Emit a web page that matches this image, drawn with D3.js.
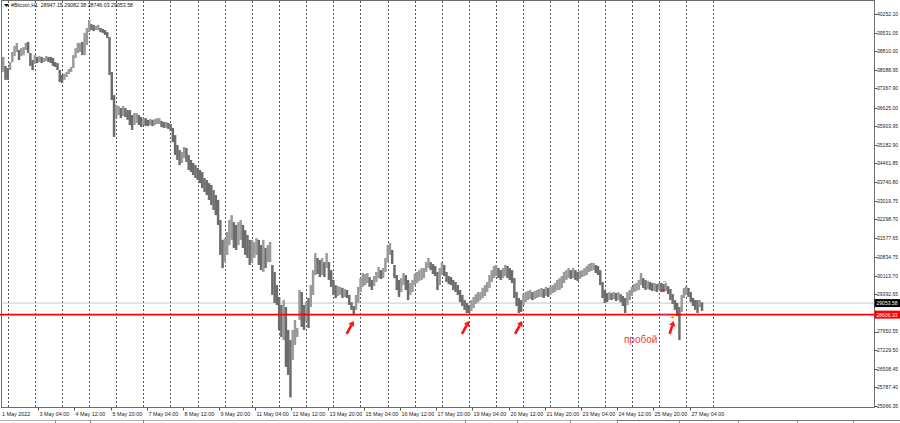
<!DOCTYPE html>
<html><head><meta charset="utf-8">
<script src="https://cdn.jsdelivr.net/npm/d3@7"></script>
<style>
body{margin:0;background:#fff;}
svg{display:block;}
text{font-family:"Liberation Sans",Arial,sans-serif;}
</style>
</head><body>
<svg id="chart" width="900" height="423"></svg>
<script>
// ---------- data ----------
const symbolName = "#Bitcoin,H1";
const lastOHLC = [28947.15, 29082.38, 28746.03, 29053.58];
const barStart = "2022-05-01T20:00:00Z";   // first bar open time
const barHours = 2;                        // each stored bar covers 2 hours
const barHigh = [
38590,38240,38160,38390,38780,39010,39130,38860,38930,38970,39130,39170,38740,38470,38660,38590,38620,38590,38550,38620,
38590,38590,38550,38390,38350,38080,37890,37930,38010,38120,38200,38660,38930,39130,39130,39170,39520,39710,40020,39860,
39830,39790,39830,39710,39670,39630,39550,39360,38010,37110,36730,36690,36610,36690,36610,36530,36530,36340,36420,36420,
36340,36260,36220,36220,36150,36180,36150,36180,36220,36220,36110,36070,36070,36030,35990,35840,35560,35180,34980,34910,
35100,35060,34790,34600,34480,34400,34290,34210,34130,33900,33820,33700,33630,33430,33240,33050,32270,31500,31570,31810,
32270,32460,32190,32080,32190,32270,32080,31880,31690,31500,31500,31420,31570,31500,31300,31500,31190,31300,31420,30530,
30260,29750,29290,28980,29170,28900,28010,27620,28010,28400,28090,29560,29480,28980,29090,29250,29750,30330,30990,30800,
30720,30800,30640,30990,30640,30330,29950,29750,29710,29680,29640,29600,29560,29370,29090,28940,29370,29680,30020,30220,
30180,30220,30060,29950,30100,30260,30450,30330,30410,30800,31300,31380,31110,30530,30140,29950,30020,30220,30140,29950,
29830,29950,30180,30260,30330,30410,30410,30640,30800,30640,30570,30490,30260,30410,30640,30530,30260,30100,30060,29950,
29870,29750,29560,29370,29170,29060,28980,29170,29290,29400,29480,29480,29640,29750,29870,30140,30330,30490,30530,30410,
30330,30410,30530,30490,30410,30330,30020,29480,29250,29170,29400,29480,29520,29560,29480,29520,29560,29600,29640,29600,
29680,29640,29710,29750,29830,29950,30020,30100,30260,30330,30410,30330,30410,30330,30260,30300,30330,30410,30490,30570,
30610,30610,30530,30490,30330,29870,29560,29440,29480,29440,29480,29440,29480,29400,29330,29250,29480,29560,29680,29790,
29830,29950,30220,30020,29950,29910,29870,29830,29830,29790,29830,29830,29790,29830,29710,29600,29400,29170,29060,28900,
29370,29640,29710,29640,29480,29250,29170,29170,29170,29082
];
const barLow = [
38010,37700,37700,38080,38390,38620,38780,38470,38620,38660,38860,38740,38240,38080,38320,38350,38390,38350,38390,38430,
38390,38350,38240,38200,38080,37620,37580,37700,37810,37930,38010,38160,38550,38740,38780,38660,38660,39050,39550,39630,
39590,39630,39630,39550,39520,39440,39320,37890,36920,35490,36220,36340,36220,36300,36260,36150,35950,35760,35950,36030,
35950,35870,35950,35910,35910,35950,35910,35950,35990,35990,35870,35840,35840,35800,35720,35290,34790,34600,34400,34480,
34670,34520,34210,34130,34010,33900,33820,33700,33510,33360,33240,33050,32850,32660,32460,32080,30920,30410,30640,30920,
31300,31500,31190,31110,31300,31500,31190,30920,30800,30530,30640,30800,30920,30530,30330,30260,30410,30640,30640,29370,
29060,28980,28010,27740,27620,26580,26270,25400,26850,27430,27740,28400,28130,28010,28320,28090,28900,29370,30140,30180,
30060,30140,30060,30410,29950,29680,29370,29250,29330,29370,29250,29290,29250,28980,28790,28590,28790,29060,29480,29680,
29750,29830,29680,29560,29710,29870,30020,29990,30020,30260,30640,30920,30570,30020,29560,29290,29480,29750,29560,29170,
29370,29480,29750,29830,29910,29950,30020,30260,30410,30330,30180,30100,29560,29750,30140,30100,29870,29790,29750,29560,
29480,29370,29090,28940,28790,28670,28670,28750,28860,29020,29090,29170,29250,29330,29480,29640,29870,30020,30100,30020,
29950,30020,30100,30020,29950,29830,29250,28940,28670,28710,28980,29090,29170,29210,29170,29210,29250,29290,29290,29250,
29330,29290,29370,29440,29480,29560,29560,29640,29830,29950,30020,29990,30020,29950,29910,29990,30060,30100,30140,30260,
30300,30330,30220,30140,29750,29250,29060,29090,29170,29170,29210,29130,29170,29090,28940,28670,28980,29170,29330,29480,
29520,29560,29750,29640,29560,29600,29560,29520,29520,29480,29560,29480,29480,29520,29400,29170,29020,28790,28550,27620,
28710,29250,29370,29290,29090,28940,28790,28670,28900,28746
];
const priceTicks = [40252.10,39531.05,38810.00,38088.95,37367.90,36625.00,35903.95,35182.90,34461.85,33740.80,
  33019.75,32298.70,31577.65,30834.75,30113.70,29392.65,27950.55,27229.50,26508.45,25787.40,25066.35];
const timeLabelDates = ["2022-05-01T20:00Z","2022-05-03T04:00Z","2022-05-04T12:00Z","2022-05-05T20:00Z","2022-05-07T04:00Z",
  "2022-05-08T12:00Z","2022-05-09T20:00Z","2022-05-11T04:00Z","2022-05-12T12:00Z","2022-05-13T20:00Z","2022-05-15T04:00Z",
  "2022-05-16T12:00Z","2022-05-17T20:00Z","2022-05-19T04:00Z","2022-05-20T12:00Z","2022-05-21T20:00Z","2022-05-23T04:00Z",
  "2022-05-24T12:00Z","2022-05-25T20:00Z","2022-05-27T04:00Z"];
const timeLabelTexts = ["1 May 2022","3 May 04:00","4 May 12:00","5 May 20:00","7 May 04:00","8 May 12:00","9 May 20:00",
  "11 May 04:00","12 May 12:00","13 May 20:00","15 May 04:00","16 May 12:00","17 May 20:00","19 May 04:00","20 May 12:00",
  "21 May 20:00","23 May 04:00","24 May 12:00","25 May 20:00","27 May 04:00"];
const gridFirstDay = "2022-05-02T01:00Z";
const gridDayCount = 27;
const supportLevel = 28606.33;
const bidPrice = 29053.58;
const arrowTimes = ["2022-05-14T19:00Z","2022-05-19T01:00Z","2022-05-21T00:00Z","2022-05-26T14:00Z"];
const arrowTipPrice = 28360;
const breakLabel = "пробой";
const breakLabelTime = "2022-05-24T18:00Z";
const breakLabelPrice = 27500;

// ---------- layout ----------
const plotLeft = 1.5, plotTop = 0.5, plotRight = 874.5, plotBottom = 407.5;
const svg = d3.select("#chart");
const x = d3.scaleUtc()
  .domain([new Date("2022-05-01T20:00:00Z"), new Date("2022-05-27T04:00:00Z")])
  .range([2, 689.5]);
const y = d3.scaleLinear().domain([25066.35, 40252.10]).range([406, 14]);
const FS = 5.4;

// frame
svg.append("rect").attr("x", plotLeft).attr("y", plotTop)
  .attr("width", plotRight - plotLeft).attr("height", plotBottom - plotTop)
  .attr("fill", "#fff").attr("stroke", "#6e6e6e").attr("stroke-width", 1);

// daily dotted grid
const gridDays = d3.range(gridDayCount).map(k => d3.utcHour.offset(new Date(gridFirstDay), 24 * k));
svg.append("g").selectAll("line").data(gridDays).join("line")
  .attr("x1", d => Math.round(x(d)) + 0.5).attr("x2", d => Math.round(x(d)) + 0.5)
  .attr("y1", plotTop + 0.5).attr("y2", plotBottom - 0.5)
  .attr("stroke", "#555").attr("stroke-width", 1).attr("stroke-dasharray", "2,2");

// bid line
svg.append("line").attr("x1", plotLeft).attr("x2", plotRight)
  .attr("y1", y(bidPrice)).attr("y2", y(bidPrice))
  .attr("stroke", "#c8c8c8").attr("stroke-width", 1);

// bars
const t0 = new Date(barStart);
const bars = barHigh.map((h, i) => ({
  t: d3.utcHour.offset(t0, barHours * i), hi: h, lo: barLow[i]
}));
bars.forEach((b, i) => {
  const mid = (b.hi + b.lo) / 2;
  const prev = i > 0 ? (bars[i - 1].hi + bars[i - 1].lo) / 2 : mid;
  b.up = mid >= prev;
});
svg.append("g").selectAll("rect").data(bars).join("rect")
  .attr("x", d => x(d.t))
  .attr("width", d => x(d3.utcHour.offset(d.t, barHours)) - x(d.t) + 0.2)
  .attr("y", d => y(d.hi))
  .attr("height", d => Math.max(1, y(d.lo) - y(d.hi)))
  .attr("fill", d => d.up ? "#9a9a9a" : "#6c6c6c");

// support line
svg.append("line").attr("x1", 0).attr("x2", plotRight)
  .attr("y1", y(supportLevel)).attr("y2", y(supportLevel))
  .attr("stroke", "#ff0000").attr("stroke-width", 1.6);

// small trade markers near the break
const mk = svg.append("g");
mk.append("rect").attr("x", x(new Date("2022-05-26T05:00Z"))).attr("y", y(29900)).attr("width", 3).attr("height", 1).attr("fill", "#f08080");
mk.append("circle").attr("cx", x(new Date("2022-05-26T05:00Z"))).attr("cy", y(29560)).attr("r", 1.2).attr("fill", "#e02020");
mk.append("rect").attr("x", x(new Date("2022-05-26T05:00Z")) - 1).attr("y", y(28640)).attr("width", 4).attr("height", 1.2).attr("fill", "#8a4fd0");
mk.append("circle").attr("cx", x(new Date("2022-05-26T13:00Z"))).attr("cy", y(28500)).attr("r", 1.3).attr("fill", "#f0a020");

// arrows
const arrowG = svg.append("g");
arrowTimes.forEach((t, k) => {
  const tx = x(new Date(t)), ty = y(arrowTipPrice);
  const dx = k === 3 ? -4 : -7, dy = 13;
  const len = Math.hypot(dx, dy), ux = -dx / len, uy = -dy / len;
  const bx = tx - ux * 5, by = ty - uy * 5;
  arrowG.append("line").attr("x1", tx + dx).attr("y1", ty + dy).attr("x2", bx).attr("y2", by)
    .attr("stroke", "#ff1010").attr("stroke-width", 2.6);
  const px = -uy, py = ux;
  arrowG.append("path")
    .attr("d", `M${tx},${ty} L${bx + px * 3.2},${by + py * 3.2} L${bx - px * 3.2},${by - py * 3.2} Z`)
    .attr("fill", "#ff1010");
});
svg.append("text").attr("x", x(new Date(breakLabelTime))).attr("y", y(breakLabelPrice))
  .attr("font-size", 10).attr("fill", "#f03a3a").text(breakLabel);

// price axis
const pa = svg.append("g");
pa.selectAll("line").data(priceTicks).join("line")
  .attr("x1", plotRight).attr("x2", plotRight + 3)
  .attr("y1", d => Math.round(y(d)) + 0.5).attr("y2", d => Math.round(y(d)) + 0.5)
  .attr("stroke", "#555");
pa.selectAll("text").data(priceTicks).join("text")
  .attr("x", 877).attr("y", d => y(d) + 1.9)
  .attr("font-size", FS).attr("fill", "#222")
  .attr("textLength", 21).attr("lengthAdjust", "spacingAndGlyphs")
  .text(d => d.toFixed(2));

// bid & level labels
[[bidPrice, "#000"], [supportLevel, "#ff0000"]].forEach(([p, c]) => {
  svg.append("rect").attr("x", plotRight).attr("y", y(p) - 4).attr("width", 25.5).attr("height", 8).attr("fill", c);
  svg.append("text").attr("x", 876.5).attr("y", y(p) + 2).attr("font-size", FS).attr("fill", "#fff")
    .attr("textLength", 21).attr("lengthAdjust", "spacingAndGlyphs").text(p.toFixed(2));
});

// time axis
const ta = svg.append("g");
timeLabelDates.forEach((d, k) => {
  const px = k === 0 ? 2 : Math.round(x(new Date(d))) + 0.5;
  if (k > 0) ta.append("line").attr("x1", px).attr("x2", px).attr("y1", plotBottom).attr("y2", plotBottom + 3).attr("stroke", "#555");
  ta.append("text").attr("x", k === 0 ? 2 : px + 1).attr("y", 415.5)
    .attr("font-size", FS).attr("fill", "#222").text(timeLabelTexts[k]);
});

// title
svg.append("path").attr("d", "M4,4 L9,4 L6.5,7 Z").attr("fill", "#111");
svg.append("text").attr("x", 11).attr("y", 7).attr("font-size", FS).attr("fill", "#111")
  .attr("xml:space", "preserve").attr("textLength", 122).attr("lengthAdjust", "spacingAndGlyphs")
  .text(symbolName + "  " + lastOHLC.map(v => v.toFixed(2)).join(" "));

// bottom tab strip
svg.append("line").attr("x1", 0).attr("x2", 900).attr("y1", 420.5).attr("y2", 420.5).attr("stroke", "#b4b4b4");
svg.append("line").attr("x1", 617).attr("x2", 900).attr("y1", 420.5).attr("y2", 420.5).attr("stroke", "#777");
[55, 90, 143, 465, 517, 570, 617, 679, 738, 797, 853].forEach(sx => {
  svg.append("line").attr("x1", sx + 0.5).attr("x2", sx + 0.5).attr("y1", 420).attr("y2", 423).attr("stroke", "#888");
});
</script>
</body></html>
